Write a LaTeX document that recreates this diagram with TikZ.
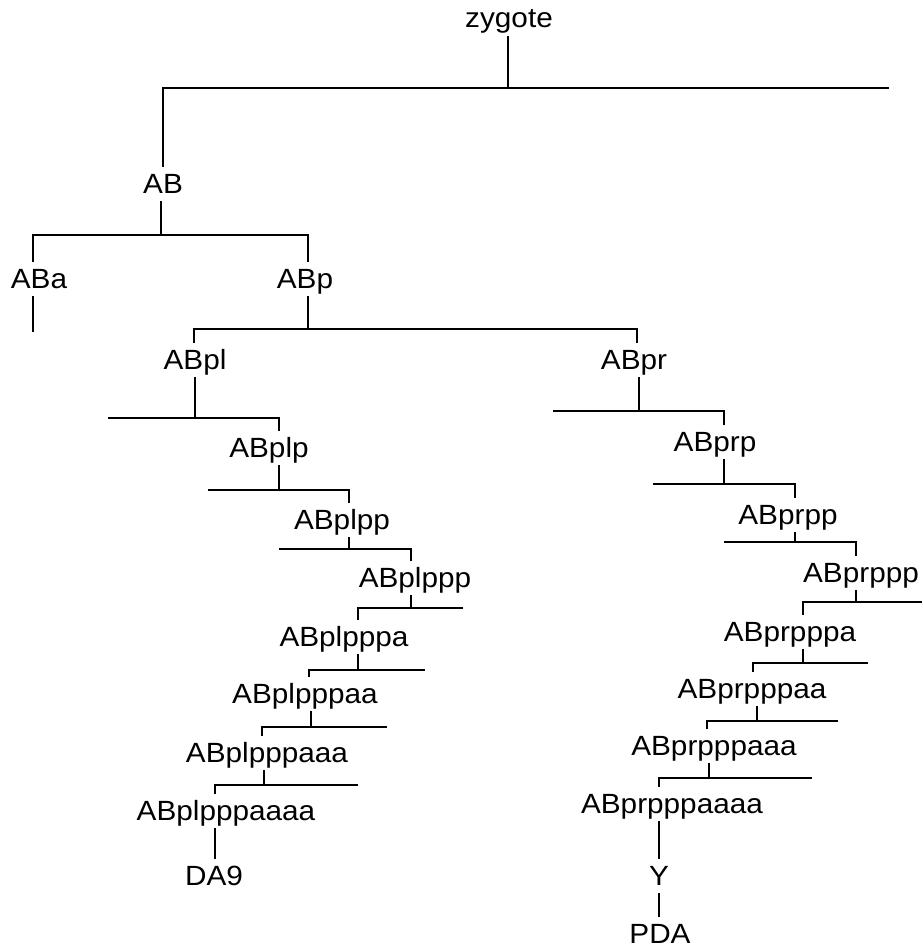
\documentclass[tikz,border=0pt]{standalone}
\usepackage{fontspec}
\setmainfont{Liberation Sans}[FakeStretch=1.07]
\begin{document}
\begin{tikzpicture}[x=1pt,y=-1pt,
  lbl/.style={font=\fontsize{27.8}{30}\selectfont, inner sep=0pt, text height=26pt, text depth=8pt, anchor=base},
  ln/.style={line width=2pt, line join=miter}]
\useasboundingbox (0,0) rectangle (922,947);
% text nodes
\node[lbl] (zyg) at (509,28) {zygote};
\node[lbl] (AB) at (163,193) {AB};
\node[lbl] (ABa) at (39,288) {ABa};
\node[lbl] (ABp) at (305,288) {ABp};
\node[lbl] (ABpl) at (195,369) {ABpl};
\node[lbl] (ABplp) at (269,457) {ABplp};
\node[lbl] (ABplpp) at (342,529) {ABplpp};
\node[lbl] (ABplppp) at (415,587) {ABplppp};
\node[lbl] (ABplpppa) at (344,646) {ABplpppa};
\node[lbl] (ABplpppaa) at (305,703) {ABplpppaa};
\node[lbl] (ABplpppaaa) at (267,762) {ABplpppaaa};
\node[lbl] (ABplpppaaaa) at (226,820) {ABplpppaaaa};
\node[lbl] (DA9) at (214,885) {DA9};
\node[lbl] (ABpr) at (634,369) {ABpr};
\node[lbl] (ABprp) at (715,451) {ABprp};
\node[lbl] (ABprpp) at (788,524) {ABprpp};
\node[lbl] (ABprppp) at (861,582) {ABprppp};
\node[lbl] (ABprpppa) at (790,641) {ABprpppa};
\node[lbl] (ABprpppaa) at (752,698) {ABprpppaa};
\node[lbl] (ABprpppaaa) at (714,755) {ABprpppaaa};
\node[lbl] (ABprpppaaaa) at (672,813) {ABprpppaaaa};
\node[lbl] (Y) at (659,885) {Y};
\node[lbl, text depth=0pt] (PDA) at (660,943) {PDA};
% junction coordinates
\coordinate (b0) at (508,88);  \coordinate (b0l) at (163,88);  \coordinate (b0r) at (889,88);
\coordinate (b1) at (161,235); \coordinate (b1l) at (33,235);  \coordinate (b1r) at (308,235);
\coordinate (b2) at (308,329); \coordinate (b2l) at (194,329); \coordinate (b2r) at (637,329);
\coordinate (b3) at (195,418); \coordinate (b3l) at (108,418); \coordinate (b3r) at (279,418);
\coordinate (b4) at (279,490); \coordinate (b4l) at (208,490); \coordinate (b4r) at (349,490);
\coordinate (b5) at (349,549); \coordinate (b5l) at (279,549); \coordinate (b5r) at (411,549);
\coordinate (b6) at (411,608); \coordinate (b6l) at (358,608); \coordinate (b6r) at (463,608);
\coordinate (b7) at (358,670); \coordinate (b7l) at (309,670); \coordinate (b7r) at (425,670);
\coordinate (b8) at (311,727); \coordinate (b8l) at (262,727); \coordinate (b8r) at (387,727);
\coordinate (b9) at (264,785); \coordinate (b9l) at (215,785); \coordinate (b9r) at (358,785);
\coordinate (c2) at (639,411); \coordinate (c2l) at (553,411); \coordinate (c2r) at (724,411);
\coordinate (c3) at (724,484); \coordinate (c3l) at (653,484); \coordinate (c3r) at (795,484);
\coordinate (c4) at (795,542); \coordinate (c4l) at (724,542); \coordinate (c4r) at (856,542);
\coordinate (c5) at (856,602); \coordinate (c5l) at (803,602); \coordinate (c5r) at (922,602);
\coordinate (c6) at (803,663); \coordinate (c6l) at (753,663); \coordinate (c6r) at (868,663);
\coordinate (c7) at (757,721); \coordinate (c7l) at (707,721); \coordinate (c7r) at (838,721);
\coordinate (c8) at (709,778); \coordinate (c8l) at (659,778); \coordinate (c8r) at (812,778);
\coordinate (ABaend) at (33,332);
% stems
\draw[ln] (zyg.south -| b0) -- (b0);
\draw[ln] (AB.south -| b1) -- (b1);
\draw[ln] (ABp.south -| b2) -- (b2);
\draw[ln] (ABpl.south -| b3) -- (b3);
\draw[ln] (ABplp.south -| b4) -- (b4);
\draw[ln] (ABplpp.south -| b5) -- (b5);
\draw[ln] (ABplppp.south -| b6) -- (b6);
\draw[ln] (ABplpppa.south -| b7) -- (b7);
\draw[ln] (ABplpppaa.south -| b8) -- (b8);
\draw[ln] (ABplpppaaa.south -| b9) -- (b9);
\draw[ln] (ABplpppaaaa.south -| b9l) -- (DA9.north -| b9l);
\draw[ln] (ABpr.south -| c2) -- (c2);
\draw[ln] (ABprp.south -| c3) -- (c3);
\draw[ln] (ABprpp.south -| c4) -- (c4);
\draw[ln] (ABprppp.south -| c5) -- (c5);
\draw[ln] (ABprpppa.south -| c6) -- (c6);
\draw[ln] (ABprpppaa.south -| c7) -- (c7);
\draw[ln] (ABprpppaaa.south -| c8) -- (c8);
\draw[ln] (ABprpppaaaa.south -| c8l) -- (Y.north -| c8l);
\draw[ln] (Y.south -| c8l) -- (PDA.north -| c8l);
\draw[ln] (ABa.south -| b1l) -- (ABaend);
% bars with child drops
\draw[ln] (AB.north -| b0l) -- (b0l) -- (b0r);
\draw[ln] (ABa.north -| b1l) -- (b1l) -- (b1r) -- (ABp.north -| b1r);
\draw[ln] (ABpl.north -| b2l) -- (b2l) -- (b2r) -- (ABpr.north -| b2r);
\draw[ln] (b3l) -- (b3r) -- (ABplp.north -| b3r);
\draw[ln] (b4l) -- (b4r) -- (ABplpp.north -| b4r);
\draw[ln] (b5l) -- (b5r) -- (ABplppp.north -| b5r);
\draw[ln] (ABplpppa.north -| b6l) -- (b6l) -- (b6r);
\draw[ln] (ABplpppaa.north -| b7l) -- (b7l) -- (b7r);
\draw[ln] (ABplpppaaa.north -| b8l) -- (b8l) -- (b8r);
\draw[ln] (ABplpppaaaa.north -| b9l) -- (b9l) -- (b9r);
\draw[ln] (c2l) -- (c2r) -- (ABprp.north -| c2r);
\draw[ln] (c3l) -- (c3r) -- (ABprpp.north -| c3r);
\draw[ln] (c4l) -- (c4r) -- (ABprppp.north -| c4r);
\draw[ln] (ABprpppa.north -| c5l) -- (c5l) -- (c5r);
\draw[ln] (ABprpppaa.north -| c6l) -- (c6l) -- (c6r);
\draw[ln] (ABprpppaaa.north -| c7l) -- (c7l) -- (c7r);
\draw[ln] (ABprpppaaaa.north -| c8l) -- (c8l) -- (c8r);
\end{tikzpicture}
\end{document}
